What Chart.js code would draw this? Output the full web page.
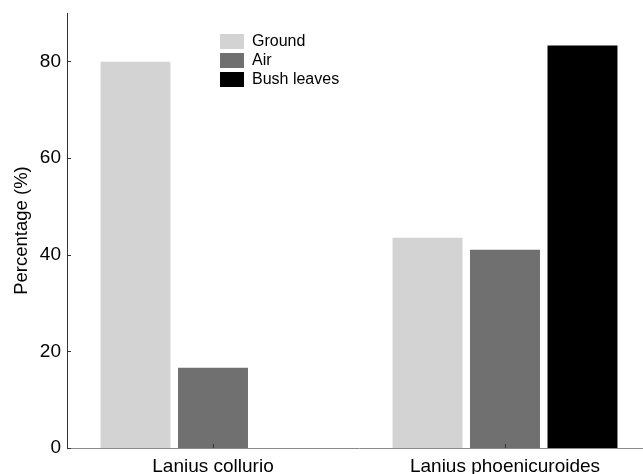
<!DOCTYPE html>
<html>
<head>
<meta charset="utf-8">
<script src="https://cdn.jsdelivr.net/npm/chart.js@4.4.1/dist/chart.umd.min.js"></script>
<style>
  html, body { margin: 0; padding: 0; background: #fff; overflow: hidden; }
  #wrap { width: 643px; height: 474px; overflow: hidden; }
</style>
</head>
<body>
<div id="wrap"><canvas id="dietChart" width="660" height="474"></canvas></div>
<script>
const categories = ['Lanius collurio', 'Lanius phoenicuroides'];
const seriesNames = ['Ground', 'Air', 'Bush leaves'];
const groundValues = [79.9, 43.5];
const airValues = [16.6, 41.0];
const bushValues = [null, 83.3];
const yTicks = [0, 20, 40, 60, 80];
const seriesColors = ['#d3d3d3', '#707070', '#000000'];

const fontFamily = '"Liberation Sans", Arial, sans-serif';

// small inward tick marks + the legend box drawn inside the plot
const extrasPlugin = {
    id: 'extras',
    afterDatasetsDraw(chart) {
        const ctx = chart.ctx;
        const x = chart.scales.x, y = chart.scales.y;
        ctx.save();
        ctx.strokeStyle = '#333';
        ctx.lineWidth = 1;
        yTicks.forEach(v => {
            const py = Math.round(y.getPixelForValue(v)) + 0.5;
            ctx.beginPath();
            ctx.moveTo(x.left, py);
            ctx.lineTo(x.left + 4, py);
            ctx.stroke();
        });
        categories.forEach((c, i) => {
            const px = Math.round(x.getPixelForValue(i)) + 0.5;
            ctx.beginPath();
            ctx.moveTo(px, y.bottom);
            ctx.lineTo(px, y.bottom - 4);
            ctx.stroke();
        });

        const lx = 220, ly = 34, row = 19;
        ctx.font = '16px ' + fontFamily;
        ctx.textBaseline = 'middle';
        chart.data.datasets.forEach((ds, i) => {
            ctx.fillStyle = ds.backgroundColor;
            ctx.fillRect(lx, ly + i * row, 24, 15);
            ctx.fillStyle = '#000';
            ctx.fillText(ds.label, lx + 32, ly + i * row + 8);
        });
        ctx.restore();
    }
};

new Chart(document.getElementById('dietChart').getContext('2d'), {
    type: 'bar',
    data: {
        labels: categories,
        datasets: [
            { label: seriesNames[0], data: groundValues, backgroundColor: seriesColors[0] },
            { label: seriesNames[1], data: airValues, backgroundColor: seriesColors[1] },
            { label: seriesNames[2], data: bushValues, backgroundColor: seriesColors[2] }
        ]
    },
    options: {
        responsive: false,
        animation: false,
        devicePixelRatio: 1,
        barPercentage: 0.903,
        categoryPercentage: 0.796,
        layout: { padding: { top: 13, right: 9, bottom: 0, left: 0 } },
        plugins: { legend: { display: false }, tooltip: { enabled: false } },
        scales: {
            x: {
                grid: { display: false, drawTicks: false },
                border: { display: true, color: '#8a8a8a', width: 1 },
                ticks: { color: '#000', padding: 7, font: { family: fontFamily, size: 19 } },
                afterFit(scale) {
                    scale.height = 26;
                    scale.paddingLeft = 0;
                    scale.paddingRight = 0;
                }
            },
            y: {
                min: 0,
                max: 90,
                grid: { display: false, drawTicks: false },
                border: { display: true, color: '#333', width: 1 },
                ticks: { color: '#000', padding: 6, font: { family: fontFamily, size: 19 } },
                afterBuildTicks(scale) { scale.ticks = yTicks.map(v => ({ value: v })); },
                title: {
                    display: true,
                    text: 'Percentage (%)',
                    color: '#000',
                    padding: { top: 11, bottom: 0 },
                    font: { family: fontFamily, size: 18.5 }
                },
                afterFit(scale) {
                    scale.width = 67;
                    scale.paddingTop = 0;
                    scale.paddingBottom = 0;
                }
            }
        }
    },
    plugins: [extrasPlugin]
});
</script>
</body>
</html>
